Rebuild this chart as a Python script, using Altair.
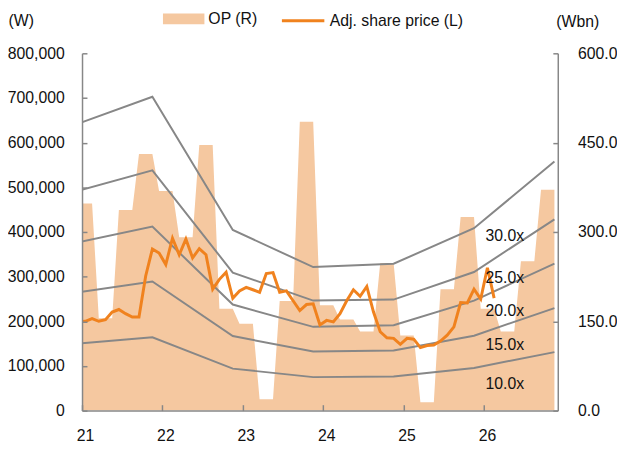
import altair as alt
import pandas as pd

FONT = "Liberation Sans, Arial, sans-serif"
FS = 16

# ---------------- data ----------------
# Operating profit by quarter, W bn, 1Q21 .. 4Q26
op_quarters = ["1Q21", "2Q21", "3Q21", "4Q21", "1Q22", "2Q22", "3Q22", "4Q22",
               "1Q23", "2Q23", "3Q23", "4Q23", "1Q24", "2Q24", "3Q24", "4Q24",
               "1Q25", "2Q25", "3Q25", "4Q25", "1Q26", "2Q26", "3Q26", "4Q26"]
op_values = [348, 155, 337, 431, 369, 291, 446, 171,
             146, 19, 184, 485, 177, 153, 133, 248,
             126, 14, 204, 325, 171, 133, 251, 371]

# Adjusted share price (W), monthly, Jan-21 .. Mar-26
price_values = [198600, 200000, 205900, 200000, 203700, 220700, 226400, 217000,
                209700, 209700, 301500, 362000, 353000, 327000, 386000, 349000,
                384000, 342000, 362600, 349000, 272000, 294000, 310000, 251600,
                268000, 276000, 270600, 265000, 307000, 309000, 265000, 268000,
                246000, 224000, 237500, 239000, 192000, 202000, 198600, 217000,
                246000, 270600, 256000, 278000, 220700, 176600, 163000, 161800,
                148500, 161800, 160000, 141000, 145700, 147000, 155800, 169000,
                187600, 242000, 241000, 272000, 250000, 320000, 252000]

# PER band lines (W): Jan-21, then each December 21..26
band_points = ["Jan-21", "Dec-21", "Dec-22", "Dec-23", "Dec-24", "Dec-25", "Dec-26"]
band_30 = [643000, 702600, 404600, 321400, 328900, 408400, 557600]
band_25 = [492500, 538000, 309000, 246400, 248600, 310400, 428300]
band_20 = [377300, 412000, 237500, 187600, 191200, 246400, 329000]
band_15 = [265000, 289200, 166900, 132500, 134700, 167800, 229600]
band_10 = [150000, 164000, 94000, 75000, 76400, 95600, 131000]
band_names = ["30.0x", "25.0x", "20.0x", "15.0x", "10.0x"]
band_label_values = [389800, 296500, 223000, 145700, 60300]

x_tick_labels = ["21", "22", "23", "24", "25", "26"]

# ---------------- tables ----------------
def month_of(label):
    mon, yr = label.split("-")
    return (int(yr) - 21) * 12 + (0 if mon == "Jan" else 11)

op_rows = []
for q, v in enumerate(op_values):
    for k in range(3):
        op_rows.append({"m": q * 3 + k, "op": v, "s": "OP (R)"})
op_df = pd.DataFrame(op_rows)

price_df = pd.DataFrame({"m": list(range(len(price_values))), "price": price_values,
                         "s": "Adj. share price (L)"})

band_rows = []
for name, vals in zip(band_names, [band_30, band_25, band_20, band_15, band_10]):
    for lab, v in zip(band_points, vals):
        band_rows.append({"m": month_of(lab), "v": v, "band": name})
band_df = pd.DataFrame(band_rows)

label_df = pd.DataFrame({"m": [63.6] * len(band_names), "v": band_label_values,
                         "band": band_names})

# ---------------- chart ----------------
GRAY = "#878787"
x_enc = alt.X("m:Q", scale=alt.Scale(domain=[0.5, 71.5], nice=False, zero=False),
              axis=alt.Axis(values=[0.5 + 12 * i for i in range(len(x_tick_labels))],
                            labelExpr="'' + (floor(datum.value / 12) + 21)",
                            title=None, grid=False, tickSize=alt.ExprRef(expr="-6"),
                            labelPadding=23, labelOffset=3, zindex=1))

left_scale = alt.Scale(domain=[0, 800000], nice=False)

area = alt.Chart(op_df).mark_area(clip=True, opacity=1, interpolate="linear").encode(
    x=x_enc,
    y=alt.Y("op:Q", scale=alt.Scale(domain=[0, 600], nice=False),
            axis=alt.Axis(orient="right", values=[0, 150, 300, 450, 600], format=".1f",
                          title="(Wbn)", titleAngle=0, titleAlign="left",
                          titleBaseline="middle", titleX=-2, titleY=-32,
                          grid=False, tickSize=alt.ExprRef(expr="-5"),
                          labelPadding=25, zindex=1)),
    color=alt.Color("s:N", scale=alt.Scale(domain=["OP (R)"], range=["#F5C8A0"]),
                    legend=alt.Legend(orient="none", legendX=82, legendY=-56, title=None,
                                      symbolType="M-1,-0.26L1,-0.26L1,0.26L-1,0.26Z",
                                      symbolSize=1764, symbolStrokeWidth=0,
                                      labelOffset=4, padding=0, labelLimit=300)),
)

bands = alt.Chart(band_df).mark_line(color=GRAY, strokeWidth=2, clip=True).encode(
    x=x_enc,
    y=alt.Y("v:Q", scale=left_scale,
            axis=alt.Axis(orient="left", values=list(range(0, 800001, 100000)), format=",d",
                          title="(W)", titleAngle=0, titleAlign="left",
                          titleBaseline="middle", titleX=-75, titleY=-33,
                          grid=False, tickSize=alt.ExprRef(expr="-5"),
                          labelPadding=23, zindex=1)),
    detail="band:N",
)

price = alt.Chart(price_df).mark_line(strokeWidth=3, clip=True).encode(
    x=x_enc,
    y=alt.Y("price:Q", scale=left_scale, axis=None),
    stroke=alt.Stroke("s:N", scale=alt.Scale(domain=["Adj. share price (L)"], range=["#F0821E"]),
                      legend=alt.Legend(orient="none", legendX=201, legendY=-56, title=None,
                                        symbolType="stroke", symbolSize=1849,
                                        symbolStrokeWidth=3, labelOffset=4, padding=0,
                                        labelLimit=300)),
)

labels = alt.Chart(label_df).mark_text(font=FONT, fontSize=FS, color="#111111",
                                       align="center", baseline="middle").encode(
    x=x_enc,
    y=alt.Y("v:Q", scale=left_scale, axis=None),
    text="band:N",
)

chart = alt.layer(area, bands, price, labels).resolve_scale(y="independent").properties(
    width=482, height=362, autosize="none",
    padding={"left": 75, "top": 43, "right": 60, "bottom": 38},
).configure_view(stroke=None).configure_axis(
    domainColor=GRAY, domainWidth=1.5, tickColor=GRAY, tickWidth=1.5,
    labelFont=FONT, labelFontSize=FS, labelColor="#111111", labelFlush=False,
    titleFont=FONT, titleFontSize=FS, titleColor="#111111", titleFontWeight="normal",
).configure_legend(
    labelFont=FONT, labelFontSize=FS, labelColor="#111111",
)

chart.save("out.html", embed_options={"renderer": "svg", "actions": False})
